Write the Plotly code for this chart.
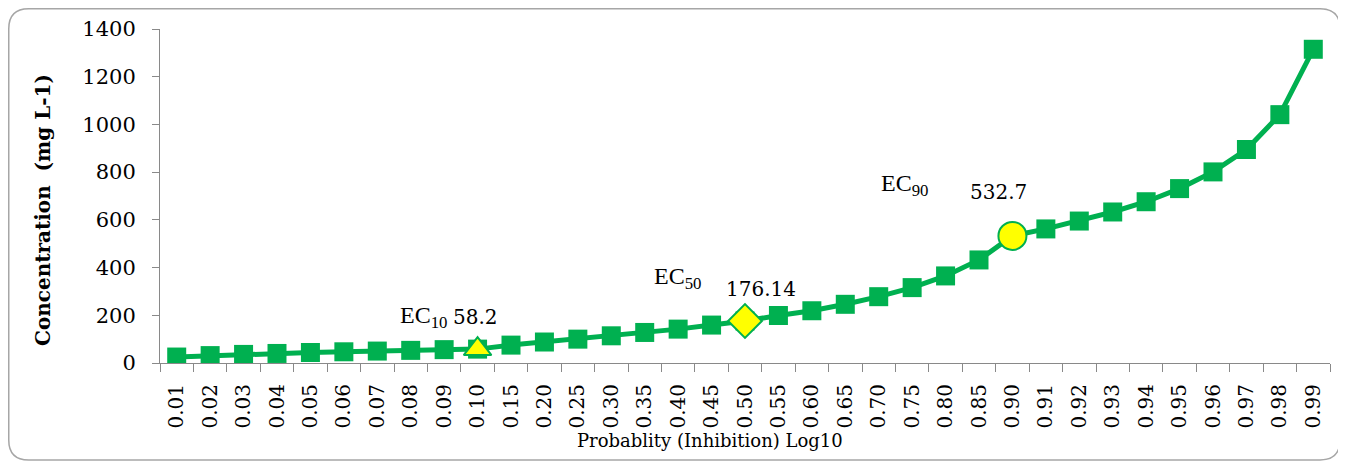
import plotly.graph_objects as go

# ---- data ----
probability = ["0.01", "0.02", "0.03", "0.04", "0.05", "0.06", "0.07", "0.08", "0.09",
               "0.10", "0.15", "0.20", "0.25", "0.30", "0.35", "0.40", "0.45", "0.50",
               "0.55", "0.60", "0.65", "0.70", "0.75", "0.80", "0.85", "0.90",
               "0.91", "0.92", "0.93", "0.94", "0.95", "0.96", "0.97", "0.98", "0.99"]
concentration = [25, 31, 36, 40, 44, 47, 50, 53, 56,
                 58.2, 75, 88, 100, 114, 128, 142, 159, 176.14,
                 199, 219, 246, 278, 316, 365, 432, 532.7,
                 562, 595, 633, 676, 731, 801, 895, 1041, 1315]

ec_names = ["EC<sub>10</sub>", "EC<sub>50</sub>", "EC<sub>90</sub>"]
ec_prob = ["0.10", "0.50", "0.90"]
ec_values = [58.2, 176.14, 532.7]
ec_text = ["58.2", "176.14", "532.7"]

y_ticks = [0, 200, 400, 600, 800, 1000, 1200, 1400]

x_title = "Probablity (Inhibition) Log10"
y_title = "Concentration  (mg L-1)"

GREEN = "#00B050"
YELLOW = "#FFFF00"

# page body has an 8px default margin: work in window pixels, then offset
OFF = 8
WIN_W, WIN_H = 1346, 461
W, H = WIN_W - OFF, WIN_H - OFF
# plot area in window pixels
wL, wR, wT, wB = 160, 1330, 29, 363
L, R, T, B = wL - OFF, wR - OFF, wT - OFF, wB - OFF
pw, ph = R - L, B - T


def paper(x, y):
    """window pixel -> paper coords"""
    return (x - OFF - L) / pw, (B - (y - OFF)) / ph


fig = go.Figure()
fig.add_trace(go.Scatter(
    x=probability, y=concentration, mode="lines+markers",
    line=dict(color=GREEN, width=5),
    marker=dict(symbol="square", size=19, color=GREEN),
    showlegend=False, hoverinfo="x+y"))

ec_symbols = ["triangle-up", "diamond", "circle"]
ec_sizes = [24, 26, 28]
for p, v, s, sz in zip(ec_prob, ec_values, ec_symbols, ec_sizes):
    fig.add_trace(go.Scatter(
        x=[p], y=[v], mode="markers",
        marker=dict(symbol=s, size=sz, color=YELLOW, line=dict(color=GREEN, width=2)),
        showlegend=False))

# annotations: (name shift, value shift) in pixels
name_shifts = [(-54, 32), (-68, 43), (-108, 51)]
val_shifts = [(-2, 32), (16, 32), (-14, 44)]
for name, p, v, t, ns, vs in zip(ec_names, ec_prob, ec_values, ec_text, name_shifts, val_shifts):
    xi = probability.index(p)
    fig.add_annotation(x=xi, y=v, text=name, showarrow=False,
                       xshift=ns[0], yshift=ns[1],
                       font=dict(family="Liberation Serif", size=24, color="black"))
    fig.add_annotation(x=xi, y=v, text=t, showarrow=False,
                       xshift=vs[0], yshift=vs[1],
                       font=dict(family="DejaVu Serif", size=20, color="black"))

# axis titles as annotations (precise placement)
tx, ty = paper(710, 440)
fig.add_annotation(x=tx, y=ty, xref="paper", yref="paper", text=x_title,
                   showarrow=False, xanchor="center", yanchor="middle",
                   font=dict(family="DejaVu Serif", size=18, color="black"))
tx, ty = paper(43, 210)
fig.add_annotation(x=tx, y=ty, xref="paper", yref="paper", text="<b>" + y_title + "</b>",
                   showarrow=False, textangle=-90, xanchor="center", yanchor="middle",
                   font=dict(family="DejaVu Serif", size=20, color="black"))


def P(x, y):
    a, b = paper(x, y)
    return f"{a:.5f},{b:.5f}"


# rounded border (window pixels)
x0, y0, x1, y1, r = 8.75, 8.75, 1340, 460, 20
path = (f"M {P(x0 + r, y0)} L {P(x1 - r, y0)} Q {P(x1, y0)} {P(x1, y0 + r)} "
        f"L {P(x1, y1 - r)} Q {P(x1, y1)} {P(x1 - r, y1)} "
        f"L {P(x0 + r, y1)} Q {P(x0, y1)} {P(x0, y1 - r)} "
        f"L {P(x0, y0 + r)} Q {P(x0, y0)} {P(x0 + r, y0)} Z")
fig.add_shape(type="path", path=path, xref="paper", yref="paper",
              line=dict(color="#A6A6A6", width=1.5), fillcolor="rgba(0,0,0,0)", layer="below")

fig.update_layout(
    width=W, height=H,
    margin=dict(l=L, r=W - R, t=T, b=H - B),
    paper_bgcolor="white", plot_bgcolor="white",
    font=dict(family="DejaVu Serif", size=20, color="black"),
)
fig.update_xaxes(
    type="category", categoryorder="array", categoryarray=probability,
    range=[-0.5, len(probability) - 0.5], automargin=False,
    tickangle=-90, tickson="boundaries", ticks="outside", ticklen=8,
    ticklabelstandoff=12,
    tickcolor="#898989", showline=True, linecolor="#898989", linewidth=1,
    showgrid=False, zeroline=False,
    tickfont=dict(family="DejaVu Serif", size=20),
)
fig.update_yaxes(
    range=[0, 1400], tickvals=y_ticks, ticks="outside", ticklen=7, automargin=False,
    ticklabelstandoff=12,
    tickcolor="#898989", showline=True, linecolor="#898989", linewidth=1,
    showgrid=False, zeroline=False,
    tickfont=dict(family="DejaVu Serif", size=21),
)

fig.write_html("out.html")
